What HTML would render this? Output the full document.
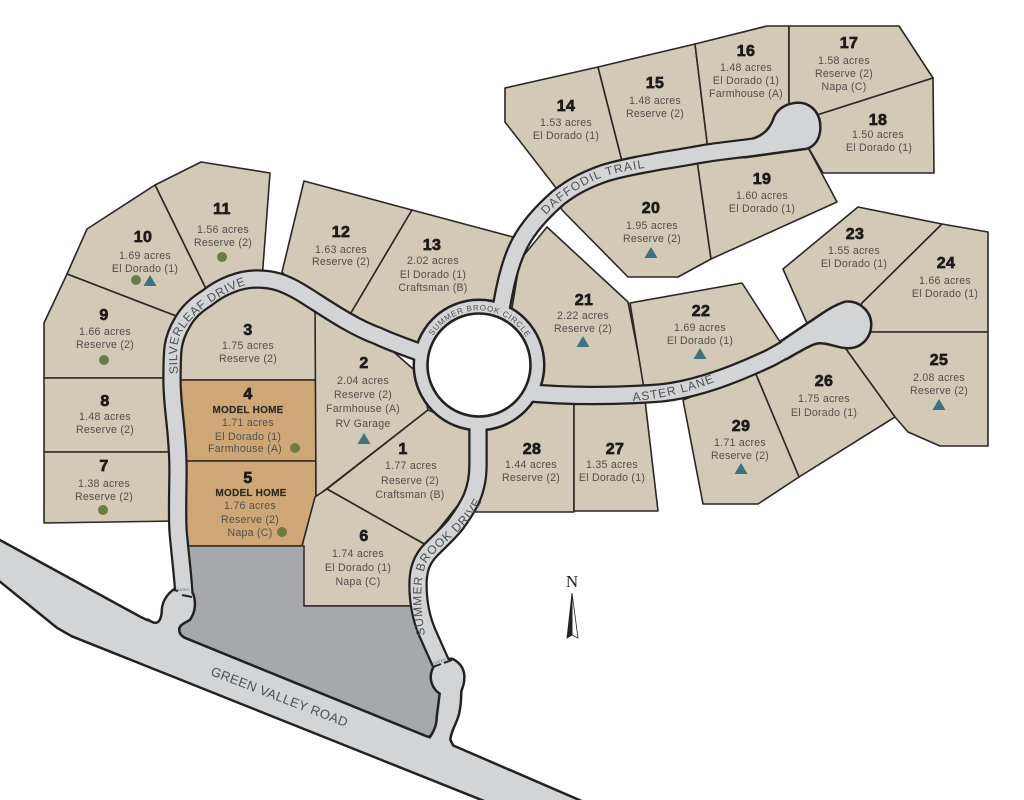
<!DOCTYPE html>
<html><head><meta charset="utf-8"><style>
html,body{margin:0;padding:0;background:#fff}
svg{display:block}
.l polygon{fill:#d2c9b6;stroke:#2a2825;stroke-width:1.6;stroke-linejoin:round}
.l polygon.m{fill:#cfa776}
text{font-family:"Liberation Sans",sans-serif;text-anchor:middle}
.t text{font-size:10.6px;fill:#52504b;letter-spacing:.25px}
.t text.n{font-size:16px;font-weight:bold;fill:#1d1c1a;stroke:#1d1c1a;stroke-width:.7px;letter-spacing:.4px}
.t text.h{font-size:10px;font-weight:bold;fill:#2b2a27;stroke:#2b2a27;stroke-width:.15px}
.r{font-size:12px;fill:#4d5052;text-anchor:start;letter-spacing:.4px}
</style></head><body>
<svg width="1024" height="800" viewBox="0 0 1024 800" xmlns="http://www.w3.org/2000/svg">
<defs>
<polygon id="tri" points="-6.5,5 6.5,5 0,-6" fill="#3c7380"/>
<circle id="dot" r="5" fill="#6a7d40"/>
<g id="lines" fill="none" stroke-linecap="butt" stroke-linejoin="round">
<path d="M184 596 C183 575 180 555 178 530 C177 510 178 490 178 470 C178 430 172 410 172 380 C172 350 172 340 182 323 C188 312 196 305 207 298 C222 286 240 279 257 279 C272 279 283 282 300 292 C320 304 350 326 378 336 C390 342 405 347 430 356"/>
<path d="M500 315 C505 285 510 262 520 243 C528 228 542 212 558 198 C572 187 585 180 605 173 C625 167 640 165 660 161 C680 158 690 156 702 154 C725 150 745 149 775 144"/>
<path d="M520 392 C570 397 620 396 660 393 C700 389 740 372 770 358 C785 350 798 342 810 334"/>
<path d="M478 420 L478 465 C478 490 470 505 455 525 C445 537 435 545 428 553 C420 563 418 573 418 585 C418 605 422 620 427 632 L443 668"/>
</g>
<g id="shapes" stroke-linejoin="round">
<polygon points="-10,536 140,618 182,638 425,737 449,745 590,806 500,806 72,635 58,627 -10,572"/>
<path d="M175 590 L192 594 C195 603 194 612 189 619 C184 622 178 624 178 630 C178 635 182 638 186 640 L150 635 L148 621 C158 628 162 622 163 612 C163 602 168 595 175 590Z"/>
<path d="M441 660 L452 660 C460 664 464 671 463 679 C463 685 460 690 460 692 C460 702 459 708 458 713 C456 722 450 730 449 740 L455 752 L425 745 C432 738 438 728 438 717 L441 693 C436 690 432 684 432 677 C432 671 435 665 441 660Z"/>
<path d="M745 142 C760 139 770 133 775 118 C780 106 795 102 805 105 C815 109 820 118 819 130 C818 142 810 148 803 148 L767 153 L745 156Z"/>
<path d="M782 342 L810 323 C820 317 830 308 845 303 C858 301 870 312 870 324 C870 338 860 347 848 347 C838 347 830 342 820 342 C815 342 810 344 786 358Z"/>
<circle cx="479" cy="365" r="64"/>
</g>
</defs>
<g class="l">
<polygon points="155,185 201,162 270,173 262,280 209,295"/>
<polygon points="155,185 87,229 67,274 176,316 190,320 209,295"/>
<polygon points="67,274 44,323 44,378 172,378 176,316"/>
<polygon points="44,378 172,378 178,452 44,452"/>
<polygon points="44,452 178,452 178,521 44,523"/>
<polygon points="172,380 316,380 316,305 280,290 230,283 190,320"/>
<polygon class="m" points="178,380 316,380 316,461 178,461"/>
<polygon class="m" points="178,461 316,461 316,497 302,546 180,546"/>
<polygon points="304,181 412,210 345,323 300,292 282,272"/>
<polygon points="412,210 513,237 505,310 430,350 385,340 345,323"/>
<polygon points="315,300 380,340 420,375 428,410 316,497"/>
<polygon points="428,410 478,430 478,480 426,545 327,489"/>
<polygon points="315,497 327,489 426,545 414,606 302,606 302,546"/>
<polygon points="480,430 540,395 574,400 574,512 465,512"/>
<polygon points="574,400 645,400 658,511 574,511"/>
<polygon points="547,227 628,302 645,388 540,390 510,320 520,260"/>
<polygon points="562,210 628,277 678,277 711,259 697,160 605,175 558,200"/>
<polygon points="697,160 711,259 837,202 804,140"/>
<polygon points="505,88 598,67 623,165 605,173 560,193 505,122"/>
<polygon points="598,67 695,44 708,150 623,165"/>
<polygon points="695,44 767,26 789,26 789,107 785,140 708,150"/>
<polygon points="789,26 899,26 933,78 817,115 796,127 789,107"/>
<polygon points="933,78 934,173 823,173 804,140 800,125 817,115"/>
<polygon points="630,303 742,283 782,345 745,370 645,395"/>
<polygon points="783,269 858,207 942,224 862,303 848,324 810,330"/>
<polygon points="942,224 988,232 988,332 850,332 862,303"/>
<polygon points="850,332 988,332 988,446 940,446 908,432 895,417 838,338"/>
<polygon points="755,372 820,340 838,338 895,417 799,477"/>
<polygon points="683,400 755,372 799,477 758,504 703,504"/>
</g>
<polygon points="188,546 304,546 304,606 412,606 440,670 445,690 442,720 428,738 182,640 175,625 192,612" fill="#a6a8ab" stroke="#2a2825" stroke-width="1.5"/>
<use href="#lines" stroke="#232220" stroke-width="19.5"/>
<use href="#shapes" fill="#232220" stroke="#232220" stroke-width="5"/>
<use href="#lines" stroke="#d2d4d6" stroke-width="15"/>
<use href="#shapes" fill="#d2d4d6"/>
<circle cx="479" cy="365" r="51.5" fill="#fff" stroke="#232220" stroke-width="2.6"/>
<path d="M174 590 L178 591 M182 595 L192 597" stroke="#232220" stroke-width="2"/>
<path d="M433 667 L441 664 M444 663 L452 660" stroke="#232220" stroke-width="2"/>
<text x="183" y="591" style="font-size:4px;fill:#666">GATES</text>
<text x="440" y="663" style="font-size:4px;fill:#666" transform="rotate(-18 440 663)">GATES</text>

<g class="t">
<text class="n" x="403" y="454">1</text><text x="411" y="469">1.77 acres</text><text x="410" y="484">Reserve (2)</text><text x="410" y="498">Craftsman (B)</text>
<text class="n" x="364" y="368">2</text><text x="363" y="384">2.04 acres</text><text x="363" y="398">Reserve (2)</text><text x="363" y="412">Farmhouse (A)</text><text x="363" y="427">RV Garage</text><use href="#tri" x="364" y="439"/>
<text class="n" x="248" y="335">3</text><text x="248" y="349">1.75 acres</text><text x="248" y="362">Reserve (2)</text>
<text class="n" x="248" y="399">4</text><text class="h" x="248" y="413">MODEL HOME</text><text x="248" y="426">1.71 acres</text><text x="248" y="440">El Dorado (1)</text><text x="245" y="452">Farmhouse (A)</text><use href="#dot" x="295" y="448"/>
<text class="n" x="248" y="483">5</text><text class="h" x="251" y="496">MODEL HOME</text><text x="250" y="509">1.76 acres</text><text x="250" y="523">Reserve (2)</text><text x="250" y="536">Napa (C)</text><use href="#dot" x="282" y="532"/>
<text class="n" x="364" y="541">6</text><text x="358" y="557">1.74 acres</text><text x="358" y="571">El Dorado (1)</text><text x="358" y="585">Napa (C)</text>
<text class="n" x="104" y="471">7</text><text x="104" y="487">1.38 acres</text><text x="104" y="500">Reserve (2)</text><use href="#dot" x="103" y="510"/>
<text class="n" x="105" y="406">8</text><text x="105" y="420">1.48 acres</text><text x="105" y="433">Reserve (2)</text>
<text class="n" x="104" y="320">9</text><text x="105" y="335">1.66 acres</text><text x="105" y="348">Reserve (2)</text><use href="#dot" x="104" y="360"/>
<text class="n" x="143" y="242">10</text><text x="145" y="259">1.69 acres</text><text x="145" y="272">El Dorado (1)</text><use href="#dot" x="136" y="280"/><use href="#tri" x="150" y="281"/>
<text class="n" x="222" y="214">11</text><text x="223" y="233">1.56 acres</text><text x="223" y="246">Reserve (2)</text><use href="#dot" x="222" y="257"/>
<text class="n" x="341" y="237">12</text><text x="341" y="253">1.63 acres</text><text x="341" y="265">Reserve (2)</text>
<text class="n" x="432" y="250">13</text><text x="433" y="264">2.02 acres</text><text x="433" y="278">El Dorado (1)</text><text x="433" y="291">Craftsman (B)</text>
<text class="n" x="566" y="111">14</text><text x="566" y="126">1.53 acres</text><text x="566" y="139">El Dorado (1)</text>
<text class="n" x="655" y="88">15</text><text x="655" y="104">1.48 acres</text><text x="655" y="117">Reserve (2)</text>
<text class="n" x="746" y="56">16</text><text x="746" y="71">1.48 acres</text><text x="746" y="84">El Dorado (1)</text><text x="746" y="97">Farmhouse (A)</text>
<text class="n" x="849" y="48">17</text><text x="844" y="64">1.58 acres</text><text x="844" y="77">Reserve (2)</text><text x="844" y="90">Napa (C)</text>
<text class="n" x="878" y="125">18</text><text x="878" y="138">1.50 acres</text><text x="879" y="151">El Dorado (1)</text>
<text class="n" x="762" y="184">19</text><text x="762" y="199">1.60 acres</text><text x="762" y="212">El Dorado (1)</text>
<text class="n" x="651" y="213">20</text><text x="652" y="229">1.95 acres</text><text x="652" y="242">Reserve (2)</text><use href="#tri" x="651" y="253"/>
<text class="n" x="584" y="305">21</text><text x="583" y="319">2.22 acres</text><text x="583" y="332">Reserve (2)</text><use href="#tri" x="583" y="342"/>
<text class="n" x="701" y="316">22</text><text x="700" y="331">1.69 acres</text><text x="700" y="344">El Dorado (1)</text><use href="#tri" x="700" y="354"/>
<text class="n" x="855" y="239">23</text><text x="854" y="254">1.55 acres</text><text x="854" y="267">El Dorado (1)</text>
<text class="n" x="946" y="268">24</text><text x="945" y="284">1.66 acres</text><text x="945" y="297">El Dorado (1)</text>
<text class="n" x="939" y="365">25</text><text x="939" y="381">2.08 acres</text><text x="939" y="394">Reserve (2)</text><use href="#tri" x="939" y="405"/>
<text class="n" x="824" y="386">26</text><text x="824" y="402">1.75 acres</text><text x="824" y="416">El Dorado (1)</text>
<text class="n" x="615" y="454">27</text><text x="612" y="468">1.35 acres</text><text x="612" y="481">El Dorado (1)</text>
<text class="n" x="532" y="454">28</text><text x="531" y="468">1.44 acres</text><text x="531" y="481">Reserve (2)</text>
<text class="n" x="741" y="431">29</text><text x="740" y="446">1.71 acres</text><text x="740" y="459">Reserve (2)</text><use href="#tri" x="741" y="469"/>
</g>

<defs>
<path id="p1" d="M178 374 C176 345 177 338 186 326 C196 312 222 291 252 283"/>
<path id="p2" d="M546 215 C560 200 580 186 600 178 C615 173 630 170 644 168"/>
<path id="p3" d="M633 401 C660 399 690 392 714 382"/>
<path id="p4" d="M425 635 C421 612 419 582 426 564 C433 548 470 530 484 496"/>
<path id="p5" d="M432.8 336 A54.5 54.5 0 0 1 533.5 365"/>
</defs>
<text class="r"><textPath href="#p1" textLength="124">SILVERLEAF DRIVE</textPath></text>
<text class="r"><textPath href="#p2" textLength="112">DAFFODIL TRAIL</textPath></text>
<text class="r"><textPath href="#p3" textLength="84">ASTER LANE</textPath></text>
<text class="r"><textPath href="#p4" textLength="156">SUMMER BROOK DRIVE</textPath></text>
<text class="r" style="font-size:8px;letter-spacing:.2px"><textPath href="#p5" textLength="112">SUMMER BROOK CIRCLE</textPath></text>
<text class="r" style="text-anchor:middle;font-size:13px" x="278" y="701" transform="rotate(21 278 701)">GREEN VALLEY ROAD</text>

<text x="572" y="587" style="font-family:'Liberation Serif',serif;font-size:17px;fill:#222">N</text>
<polygon points="572,593 578,638 572,635" fill="#fff" stroke="#222" stroke-width=".8"/>
<polygon points="572,593 567,638 572,635" fill="#222" stroke="#222" stroke-width=".8"/>
</svg>
</body></html>
